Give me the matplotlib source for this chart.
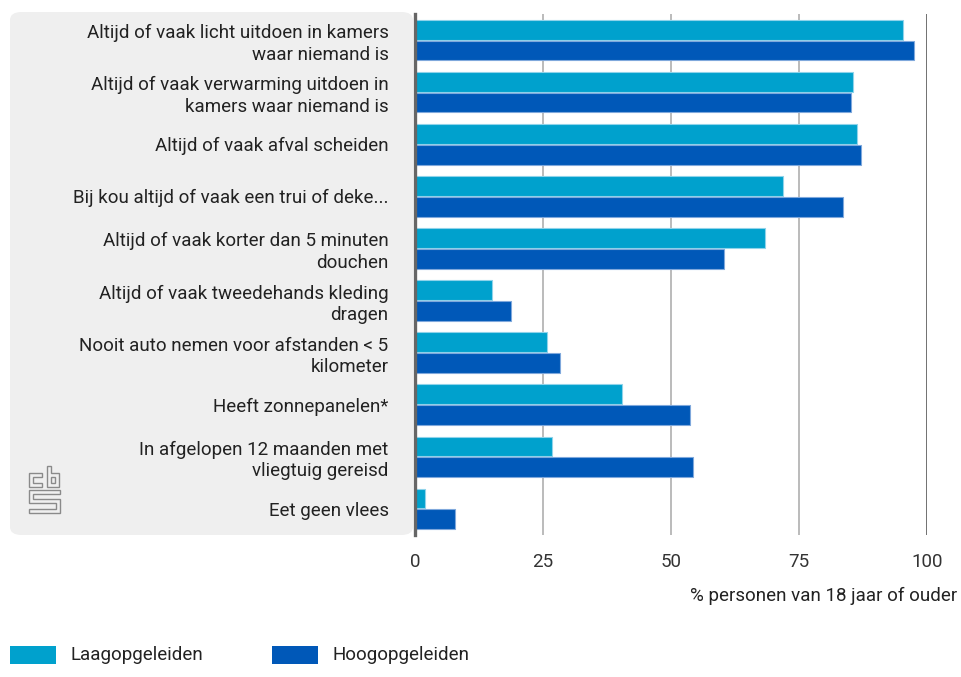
import matplotlib.pyplot as plt
import numpy as np
from matplotlib.patches import FancyBboxPatch, Rectangle, Polygon

plt.rcParams['font.family'] = ['Roboto', 'DejaVu Sans']

## Data
categories = ["Altijd of vaak licht uitdoen in kamers\nwaar niemand is",
              "Altijd of vaak verwarming uitdoen in\nkamers waar niemand is",
              "Altijd of vaak afval scheiden",
              "Bij kou altijd of vaak een trui of deke...",
              "Altijd of vaak korter dan 5 minuten\ndouchen",
              "Altijd of vaak tweedehands kleding\ndragen",
              "Nooit auto nemen voor afstanden < 5\nkilometer",
              "Heeft zonnepanelen*",
              "In afgelopen 12 maanden met\nvliegtuig gereisd",
              "Eet geen vlees"]
laag = [95.4, 85.5, 86.4, 71.9, 68.3, 15.1, 25.7, 40.5, 26.7, 1.9]
hoog = [97.4, 85.2, 87.2, 83.5, 60.4, 18.8, 28.3, 53.8, 54.2, 7.9]
series_names = ["Laagopgeleiden", "Hoogopgeleiden"]
colors = ["#00a1cd", "#0058b8"]
edge_colors = ["#8fd3ea", "#7fa8dc"]
xticks = [0, 25, 50, 75, 100]

W, H = 961, 677
FS = 13.5
fig = plt.figure(figsize=(W / 100, H / 100), dpi=100)

## grey label panel
panel = FancyBboxPatch((10 / W, 1 - 535 / H), (413 - 10) / W, (535 - 12) / H,
                       boxstyle="round,pad=0,rounding_size=0.012",
                       transform=fig.transFigure, facecolor="#efefef",
                       edgecolor="none", zorder=-1)
fig.patches.append(panel)

ax = fig.add_axes([415 / W, 1 - 535 / H, (927 - 415) / W, (535 - 14) / H])
ax.set_facecolor("none")
ax.set_zorder(2)

y = np.arange(len(categories))
h = 0.38
for vals, off, c, ec in zip([laag, hoog], [-0.2, 0.2], colors, edge_colors):
    ax.barh(y + off, vals, height=h, color=c, edgecolor=ec, linewidth=0.8, zorder=3)

ax.set_xlim(0, 100)
ax.set_ylim(len(categories) - 0.5, -0.5)
ax.set_xticks(xticks)
ax.set_xticklabels([str(t) for t in xticks], fontsize=FS, color="#333333")
ax.set_yticks(y)
ax.set_yticklabels(categories, fontsize=FS, color="#222222", linespacing=1.25)
ax.tick_params(axis="y", length=0, pad=19)
ax.tick_params(axis="x", length=0, pad=13)

for s in ["top", "right", "bottom"]:
    ax.spines[s].set_visible(False)
ax.spines["left"].set_color("#666666")
ax.spines["left"].set_linewidth(2.4)
ax.spines["left"].set_zorder(5)

for t in xticks[1:]:
    ax.axvline(t, color="#666666" if t == 100 else "#a8a8a8",
               linewidth=1.3 if t == 100 else 1.1, zorder=1)

fig.text(957 / W, 1 - 596 / H, "% personen van 18 jaar of ouder", ha="right",
         va="center", fontsize=FS, color="#222222")

## CBS logo (simplified outline)
logo_shapes = [
    [(29, 473), (42, 473), (42, 477), (33, 477), (33, 483), (42, 483), (42, 487), (29, 487)],
    [(47, 466), (51, 466), (51, 473), (59, 473), (59, 487), (47, 487)],
    [(51, 477), (55, 477), (55, 483), (51, 483)],
    [(29, 490), (60, 490), (60, 494), (33, 494), (33, 499), (60, 499), (60, 513),
     (29, 513), (29, 509), (56, 509), (56, 503), (29, 503)],
]
for shp in logo_shapes:
    fig.patches.append(Polygon([(px / W, 1 - py / H) for px, py in shp], closed=True,
                               transform=fig.transFigure, facecolor="none",
                               edgecolor="#8a8a8a", linewidth=1.0))

## legend
leg_x = [10, 272]
for x0, c, name in zip(leg_x, colors, series_names):
    fig.patches.append(Rectangle((x0 / W, 1 - 664 / H), 46 / W, 18 / H,
                                 transform=fig.transFigure, facecolor=c,
                                 edgecolor="none"))
    fig.text((x0 + 60) / W, 1 - 655 / H, name, va="center", ha="left",
             fontsize=FS, color="#222222")

fig.savefig("out.png", dpi=100)
